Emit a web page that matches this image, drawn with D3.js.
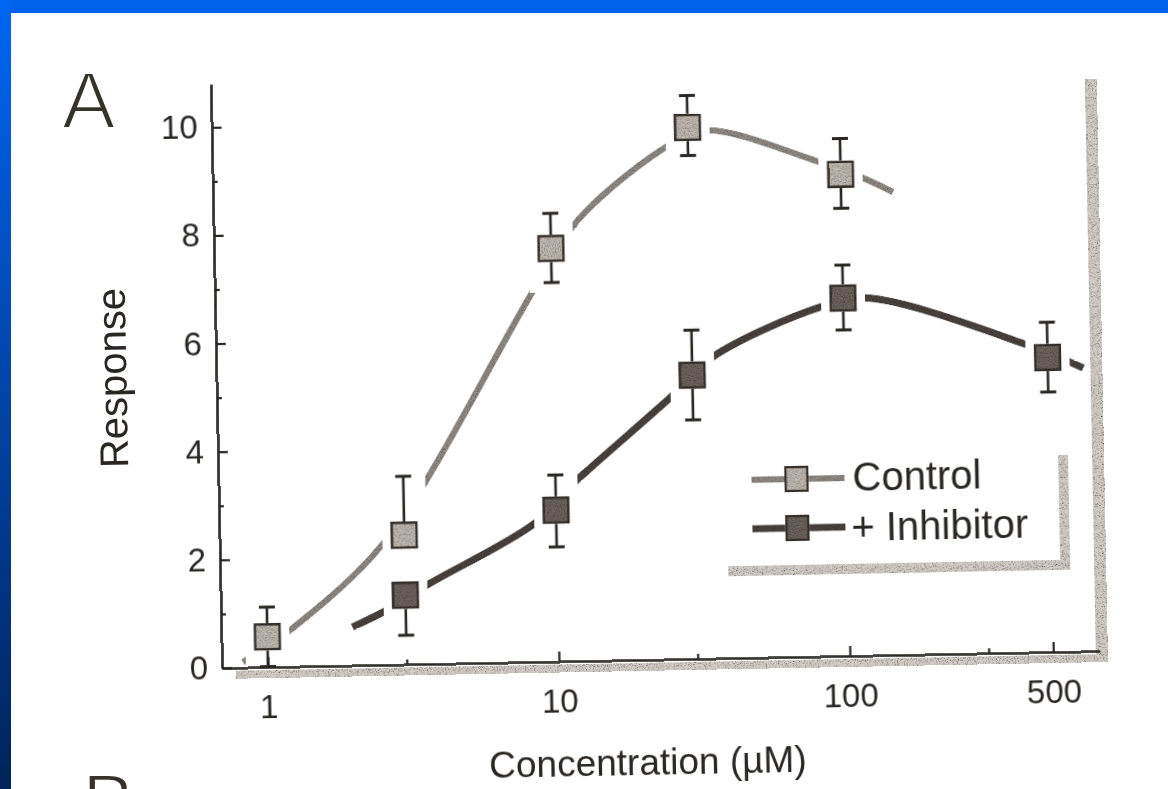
<!DOCTYPE html>
<html>
<head>
<meta charset="utf-8">
<script src="https://cdn.jsdelivr.net/npm/d3@7"></script>
<style>
  html, body { margin: 0; padding: 0; background: #fff; overflow: hidden; }
  svg { display: block; }
</style>
</head>
<body>
<svg id="chart" width="1168" height="789"></svg>
<script>
// ---- data ----
const controlConc = [1, 3, 10, 30, 100];
const controlResp = [0.56, 2.39, 7.64, 9.83, 8.91];
const controlErrHi = [0.55, 1.09, 0.65, 0.59, 0.66];
const controlErrLo = [0.55, null, 0.63, 0.52, 0.63];

const inhibConc = [3, 10, 30, 100, 500];
const inhibResp = [1.28, 2.80, 5.25, 6.62, 5.45];
const inhibErrHi = [null, 0.65, 0.83, 0.61, 0.65];
const inhibErrLo = [0.74, 0.68, 0.83, 0.59, 0.64];

// fitted curves (concentration, response)
const controlFitConc = [0.82, 1.2, 2.31, 3.37, 8.74, 12.6, 26.5, 35.2, 82, 118.5, 151];
const controlFitResp = [0.1, 0.68, 2.0, 3.16, 6.91, 8.19, 9.54, 9.77, 9.17, 8.84, 8.56];
const inhibFitConc = [1.96, 2.58, 3.56, 8.46, 11.04, 25.6, 35.2, 83.4, 121, 412, 663];
const inhibFitResp = [0.71, 1.01, 1.46, 2.57, 3.2, 4.88, 5.57, 6.46, 6.61, 5.72, 5.24];

const xMajorTicks = [1, 10, 100, 500];
const xMinorTicks = [3, 30, 300];
const yMajorTicks = [0, 2, 4, 6, 8, 10];
const yMinorTicks = [1, 3, 5, 7, 9];

const seriesNames = ["Control", "+ Inhibitor"];

// ---- page frame ----
const W = 1168, H = 789;
const svg = d3.select("#chart");
const defs = svg.append("defs");

const side = defs.append("linearGradient").attr("id", "sideBlue")
  .attr("x1", 0).attr("y1", 0).attr("x2", 0).attr("y2", 1);
side.append("stop").attr("offset", 0).attr("stop-color", "#0066f2");
side.append("stop").attr("offset", 1).attr("stop-color", "#00235a");

svg.append("rect").attr("width", W).attr("height", H).attr("fill", "#fff");
svg.append("rect").attr("x", 0).attr("y", 0).attr("width", W).attr("height", 13).attr("fill", "#0062ea");
svg.append("rect").attr("x", 0).attr("y", 0).attr("width", 11).attr("height", H).attr("fill", "url(#sideBlue)");

// speckled print texture for strokes and fills
function makeGrain(id, gain, offset, freq, seed) {
  const f = defs.append("filter").attr("id", id)
    .attr("filterUnits", "userSpaceOnUse")
    .attr("x", -400).attr("y", -800).attr("width", 1700).attr("height", 1200);
  f.append("feTurbulence").attr("type", "fractalNoise").attr("baseFrequency", freq)
    .attr("numOctaves", 2).attr("seed", seed).attr("result", "n");
  f.append("feColorMatrix").attr("in", "n").attr("type", "matrix")
    .attr("values", `${gain} 0 0 0 ${offset}  ${gain} 0 0 0 ${offset}  ${gain} 0 0 0 ${offset}  0 0 0 0 1`)
    .attr("result", "g");
  f.append("feBlend").attr("in", "SourceGraphic").attr("in2", "g").attr("mode", "multiply").attr("result", "b");
  f.append("feComposite").attr("in", "b").attr("in2", "SourceGraphic").attr("operator", "in");
}
makeGrain("grain", 1.4, 0.12, 0.75, 7);
makeGrain("grainShade", 2.4, -0.25, 0.9, 11);

const soft = defs.append("filter").attr("id", "soft")
  .attr("filterUnits", "userSpaceOnUse")
  .attr("x", 0).attr("y", 0).attr("width", W).attr("height", H);
soft.append("feGaussianBlur").attr("stdDeviation", 0.55);

const ink = "#2a2724";
const font = "'Liberation Sans', Arial, sans-serif";

const page = svg.append("g").attr("filter", "url(#soft)");

// panel letters (thin white outline slims the glyph strokes)
[["A", 62, 128], ["B", 82, 830]].forEach(([t, px, py]) => {
  page.append("text").attr("x", px).attr("y", py).attr("font-family", font)
    .attr("font-size", 80).attr("fill", "#34302c")
    .attr("stroke", "#fff").attr("stroke-width", 2.2).attr("paint-order", "fill")
    .text(t);
});

// plot frame (slightly tilted page)
const g = page.append("g").attr("transform", "translate(222,668) rotate(-1.1)");

const x = d3.scaleLog().domain([0.695, 723]).range([0, 878]);
const y = d3.scaleLinear().domain([0, 10.8]).range([0, -584]);

// grey frame shadows
const shade = g.append("g").attr("filter", "url(#grainShade)").attr("fill", "#d3cec7");
shade.append("rect").attr("x", 14).attr("y", 3).attr("width", x.range()[1] - 6).attr("height", 8);
shade.append("rect").attr("x", x.range()[1] - 4).attr("y", -572).attr("width", 12).attr("height", 583);
shade.append("rect").attr("x", 508).attr("y", -92).attr("width", 342).attr("height", 10);
shade.append("rect").attr("x", 840).attr("y", -197).attr("width", 10).attr("height", 115);

// axes
g.append("g").call(d3.axisLeft(y).tickValues(yMajorTicks)
  .tickSizeInner(-10).tickSizeOuter(0).tickPadding(14));
g.append("g").call(d3.axisLeft(y).tickValues(yMinorTicks)
  .tickSizeInner(-5).tickSizeOuter(0).tickFormat(""))
  .select(".domain").remove();
g.append("g").call(d3.axisBottom(x).tickValues(xMajorTicks)
  .tickFormat(d3.format("d")).tickSizeInner(-10).tickSizeOuter(0).tickPadding(28));
g.append("g").call(d3.axisBottom(x).tickValues(xMinorTicks)
  .tickSizeInner(-5).tickSizeOuter(0).tickFormat(""))
  .select(".domain").remove();

g.selectAll(".domain").attr("stroke", ink).attr("stroke-width", 2.6);
g.selectAll(".tick line").attr("stroke", ink).attr("stroke-width", 2.2);
g.selectAll(".tick text").attr("font-family", font).attr("font-size", 33).attr("fill", ink);

// axis titles
g.append("text").attr("transform", "translate(-90,-292) rotate(-90)")
  .attr("text-anchor", "middle").attr("font-family", font).attr("font-size", 40)
  .attr("fill", ink).text("Response");
g.append("text").attr("x", 424).attr("y", 115)
  .attr("text-anchor", "middle").attr("font-family", font).attr("font-size", 37)
  .attr("fill", ink).text("Concentration (\u00b5M)");

// series
const series = [
  { name: seriesNames[0], conc: controlConc, resp: controlResp, hi: controlErrHi, lo: controlErrLo,
    fit: controlFitConc.map((c, i) => [c, controlFitResp[i]]), line: "#948e88", lw: 6.5, fill: "#c4bdb5" },
  { name: seriesNames[1], conc: inhibConc, resp: inhibResp, hi: inhibErrHi, lo: inhibErrLo,
    fit: inhibFitConc.map((c, i) => [c, inhibFitResp[i]]), line: "#4c4540", lw: 7.5, fill: "#6e655e" }
];

// gaps in the curves around each marker and its error bar
const mask = defs.append("mask").attr("id", "gapMask").attr("maskUnits", "userSpaceOnUse")
  .attr("x", -400).attr("y", -800).attr("width", 1700).attr("height", 1200);
mask.append("rect").attr("x", -400).attr("y", -800).attr("width", 1700).attr("height", 1200).attr("fill", "#fff");
series.forEach(s => {
  s.conc.forEach((c, i) => {
    const top = s.resp[i] + (s.hi[i] == null ? 0.22 : s.hi[i]);
    const bot = s.resp[i] - (s.lo[i] == null ? 0.22 : s.lo[i]);
    mask.append("rect").attr("x", x(c) - 22).attr("y", y(top) - 10)
      .attr("width", 44).attr("height", y(bot) - y(top) + 20).attr("fill", "#000");
  });
});

const curve = d3.line().x(d => x(d[0])).y(d => y(d[1])).curve(d3.curveCatmullRom.alpha(0.5));
const curves = g.append("g").attr("mask", "url(#gapMask)").append("g").attr("filter", "url(#grain)");
series.forEach(s => {
  curves.append("path").attr("d", curve(s.fit)).attr("fill", "none")
    .attr("stroke", s.line).attr("stroke-width", s.lw).attr("stroke-linecap", "butt");
});

const M = 25, cap = 8;
series.forEach(s => {
  const sg = g.append("g");
  s.conc.forEach((c, i) => {
    const cx = x(c), v = s.resp[i];
    const yt = s.hi[i] == null ? y(v) : y(v + s.hi[i]);
    const yb = s.lo[i] == null ? y(v) : y(v - s.lo[i]);
    sg.append("line").attr("x1", cx).attr("x2", cx).attr("y1", yt).attr("y2", yb)
      .attr("stroke", ink).attr("stroke-width", 2.6);
    if (s.hi[i] != null) sg.append("line").attr("x1", cx - cap).attr("x2", cx + cap)
      .attr("y1", yt).attr("y2", yt).attr("stroke", ink).attr("stroke-width", 3);
    if (s.lo[i] != null) sg.append("line").attr("x1", cx - cap).attr("x2", cx + cap)
      .attr("y1", yb).attr("y2", yb).attr("stroke", ink).attr("stroke-width", 3);
  });
  sg.append("g").attr("filter", "url(#grain)").selectAll("rect").data(s.conc).join("rect")
    .attr("x", c => x(c) - M / 2).attr("y", (c, i) => y(s.resp[i]) - M / 2)
    .attr("width", M).attr("height", M)
    .attr("fill", s.fill).attr("stroke", "#3a3430").attr("stroke-width", 2.6);
});

// legend
const legendRows = [{ v: -178, tv: -165 }, { v: -129, tv: -115 }];
series.forEach((s, i) => {
  const r = legendRows[i];
  g.append("line").attr("x1", 533).attr("x2", 626).attr("y1", r.v).attr("y2", r.v)
    .attr("stroke", s.line).attr("stroke-width", s.lw).attr("filter", "url(#grain)");
  g.append("rect").attr("x", 578 - 11).attr("y", r.v - 12).attr("width", 22).attr("height", 24)
    .attr("fill", s.fill).attr("stroke", "#3a3430").attr("stroke-width", 2.4).attr("filter", "url(#grain)");
  g.append("text").attr("x", i === 0 ? 634 : 632).attr("y", r.tv)
    .attr("font-family", font).attr("font-size", 40).attr("fill", ink).text(s.name);
});
</script>
</body>
</html>
